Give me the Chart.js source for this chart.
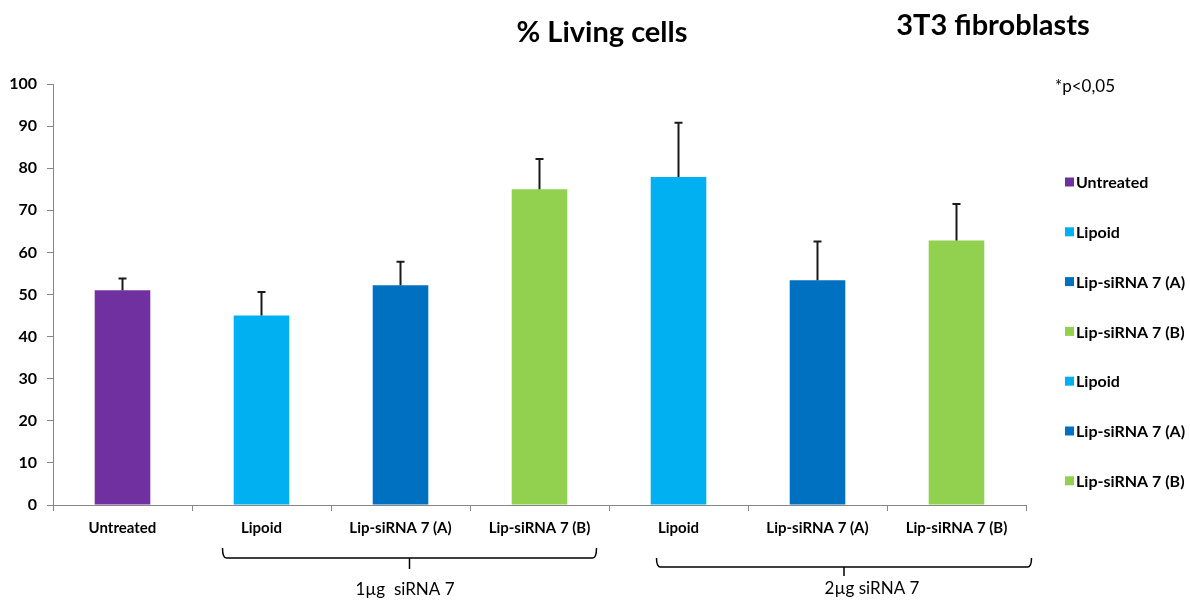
<!DOCTYPE html>
<html>
<head>
<meta charset="utf-8">
<title>% Living cells</title>
<script src="https://cdn.jsdelivr.net/npm/chart.js@4.4.0/dist/chart.umd.min.js"></script>
<style>
  html, body { margin: 0; padding: 0; background: #fff; }
  #wrap { width: 1190px; height: 605px; position: relative; }
</style>
</head>
<body>
<div id="wrap"><canvas id="livingChart"></canvas></div>
<script>
// bar data: % living 3T3 cells per treatment, with upper SD
var categories = ['Untreated', 'Lipoid', 'Lip-siRNA 7 (A)', 'Lip-siRNA 7 (B)', 'Lipoid', 'Lip-siRNA 7 (A)', 'Lip-siRNA 7 (B)'];
var livingCells = [51, 45, 52.2, 75, 77.9, 53.4, 62.8];
var errorUp = [2.8, 5.6, 5.6, 7.2, 12.9, 9.2, 8.7];
var yTicks = [0, 10, 20, 30, 40, 50, 60, 70, 80, 90, 100];
var barColors = ['#7030A0', '#00B0F0', '#0070C0', '#92D050', '#00B0F0', '#0070C0', '#92D050'];
var doseLabels = ['1µg  siRNA 7', '2µg siRNA 7'];
var doseRanges = [[1, 3], [4, 6]];

var FONT = 'Lato, "Open Sans", sans-serif';
var AXIS_GREY = '#868686';

// upper error whiskers on each bar
var errorBars = {
  id: 'errorBars',
  afterDatasetsDraw: function (chart) {
    var ctx = chart.ctx;
    var y = chart.scales.y;
    var bars = chart.getDatasetMeta(0).data;
    ctx.save();
    ctx.strokeStyle = '#1a1a1a';
    ctx.lineWidth = 2;
    bars.forEach(function (bar, i) {
      var top = y.getPixelForValue(livingCells[i] + errorUp[i]);
      ctx.beginPath();
      ctx.moveTo(bar.x, bar.y);
      ctx.lineTo(bar.x, top);
      ctx.moveTo(bar.x - 4, top);
      ctx.lineTo(bar.x + 4, top);
      ctx.stroke();
    });
    ctx.restore();
  }
};

// titles, side legend, p-value note and dose brackets
var extras = {
  id: 'extras',
  afterDraw: function (chart) {
    var ctx = chart.ctx;
    var x = chart.scales.x;
    ctx.save();
    ctx.fillStyle = '#000';
    ctx.textBaseline = 'middle';
    ctx.textAlign = 'center';

    ctx.font = 'bold 29px ' + FONT;
    ctx.fillText('% Living cells', 602, 33);
    ctx.fillText('3T3 fibroblasts', 993, 26);

    ctx.font = '17px ' + FONT;
    ctx.textAlign = 'left';
    ctx.fillText('*p<0,05', 1055, 87);

    ctx.font = 'bold 16px ' + FONT;
    categories.forEach(function (name, i) {
      var cy = 182 + i * 49.8;
      ctx.fillStyle = barColors[i];
      ctx.fillRect(1065, cy - 4.5, 9, 9);
      ctx.fillStyle = '#000';
      ctx.fillText(name, 1076, cy + 1);
    });

    // brackets under the two dose groups
    var layout = [
      { dl: -39, dr: 57, top: 548, line: 558, stem: 569, labelX: 405, labelY: 590 },
      { dl: -22, dr: 75, top: 558, line: 567, stem: 576, labelX: 872, labelY: 589 }
    ];
    ctx.strokeStyle = '#000';
    ctx.lineWidth = 1.5;
    doseRanges.forEach(function (r, g) {
      var L = layout[g];
      var left = x.getPixelForValue(r[0]) + L.dl;
      var right = x.getPixelForValue(r[1]) + L.dr;
      var mid = (left + right) / 2;
      ctx.beginPath();
      ctx.moveTo(left, L.top);
      ctx.quadraticCurveTo(left, L.line, left + 4, L.line);
      ctx.lineTo(right - 4, L.line);
      ctx.quadraticCurveTo(right, L.line, right, L.top);
      ctx.moveTo(mid, L.line);
      ctx.lineTo(mid, L.stem);
      ctx.stroke();
      ctx.font = '17px ' + FONT;
      ctx.textAlign = 'center';
      ctx.fillText(doseLabels[g], L.labelX, L.labelY);
    });
    ctx.restore();
  }
};

new Chart(document.getElementById('livingChart'), {
  type: 'bar',
  data: {
    labels: categories,
    datasets: [{
      label: '% Living cells',
      data: livingCells,
      backgroundColor: barColors,
      categoryPercentage: 1,
      barPercentage: 0.4
    }]
  },
  options: {
    responsive: true,
    maintainAspectRatio: false,
    animation: false,
    layout: { padding: { left: 0, right: 164, top: 84, bottom: 0 } },
    plugins: {
      legend: { display: false },
      tooltip: { enabled: false },
      title: { display: false }
    },
    scales: {
      x: {
        afterFit: function (s) { s.height = 100; },
        grid: { display: true, drawOnChartArea: false, offset: true, tickLength: 6, color: AXIS_GREY },
        border: { color: AXIS_GREY },
        ticks: { color: '#000', padding: 8, font: { family: FONT, size: 15, weight: 'bold' } }
      },
      y: {
        min: 0,
        max: 100,
        afterFit: function (s) { s.width = 53; },
        afterBuildTicks: function (s) { s.ticks = yTicks.map(function (v) { return { value: v }; }); },
        grid: { display: true, drawOnChartArea: false, tickLength: 6, color: AXIS_GREY },
        border: { color: AXIS_GREY },
        ticks: { color: '#000', padding: 10, font: { family: FONT, size: 16, weight: 'bold' } }
      }
    }
  },
  plugins: [errorBars, extras]
});
</script>
</body>
</html>
